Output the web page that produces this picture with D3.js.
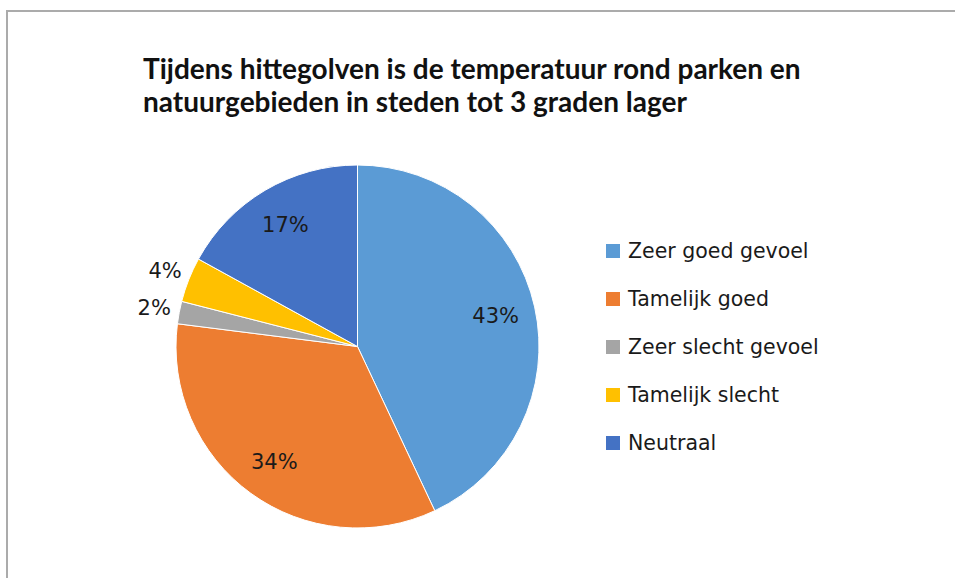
<!DOCTYPE html>
<html><head><meta charset="utf-8">
<script src="https://cdn.jsdelivr.net/npm/d3@7/dist/d3.min.js"></script>
<style>html,body{margin:0;padding:0;background:#fff;}svg{display:block;}</style>
</head><body>
<svg id="chart" width="955" height="578"></svg>
<script>
const titleLines = ["Tijdens hittegolven is de temperatuur rond parken en", "natuurgebieden in steden tot 3 graden lager"];
const categories = ["Zeer goed gevoel", "Tamelijk goed", "Zeer slecht gevoel", "Tamelijk slecht", "Neutraal"];
const values = [43, 34, 2, 4, 17];
const colors = ["#5B9BD5", "#ED7D31", "#A5A5A5", "#FFC000", "#4472C4"];
const outsideLabel = [false, false, true, true, false];

const svg = d3.select("#chart");
const titleFont = "Lato, 'Open Sans', sans-serif";
const bodyFont = "'DejaVu Sans', Verdana, sans-serif";

// frame
svg.append("rect").attr("x", 7).attr("y", 11).attr("width", 1000).attr("height", 1000)
  .attr("fill", "none").attr("stroke", "#ababab").attr("stroke-width", 2);

// title
svg.append("g").selectAll("text").data(titleLines).join("text")
  .attr("x", 143).attr("y", (d, i) => 78.5 + i * 33)
  .attr("font-family", titleFont).attr("font-weight", "bold").attr("font-size", 28)
  .attr("fill", "#111").text(d => d);

const cx = 357.5, cy = 346.5, r = 181.5;
const pie = d3.pie().sort(null).value(d => d.v);
const data = pie(categories.map((c, i) => ({c, v: values[i], i})));
const arc = d3.arc().innerRadius(0).outerRadius(r);
const g = svg.append("g").attr("transform", `translate(${cx},${cy})`);
g.selectAll("path").data(data).join("path")
  .attr("d", arc).attr("fill", d => colors[d.data.i])
  .attr("stroke", "#fff").attr("stroke-width", 1);

const inArc = d3.arc().innerRadius(r * 0.78).outerRadius(r * 0.78);
const outArc = d3.arc().innerRadius(r * 1.14).outerRadius(r * 1.14);
g.selectAll("text").data(data).join("text")
  .attr("transform", d => `translate(${(outsideLabel[d.data.i] ? outArc : inArc).centroid(d)})`)
  .attr("text-anchor", "middle").attr("dy", "0.36em")
  .attr("font-family", bodyFont).attr("font-size", 21).attr("fill", "#1a1a1a")
  .text(d => d3.format(".0%")(d.data.v / 100));

// legend
const lg = svg.append("g");
const rows = lg.selectAll("g").data(categories).join("g")
  .attr("transform", (d, i) => `translate(606, ${251 + i * 48})`);
rows.append("rect").attr("x", 0).attr("y", -7).attr("width", 14).attr("height", 14)
  .attr("fill", (d, i) => colors[i]);
rows.append("text").attr("x", 22).attr("dy", "0.36em")
  .attr("font-family", bodyFont).attr("font-size", 20.5).attr("fill", "#1a1a1a").text(d => d);
</script>
</body></html>
